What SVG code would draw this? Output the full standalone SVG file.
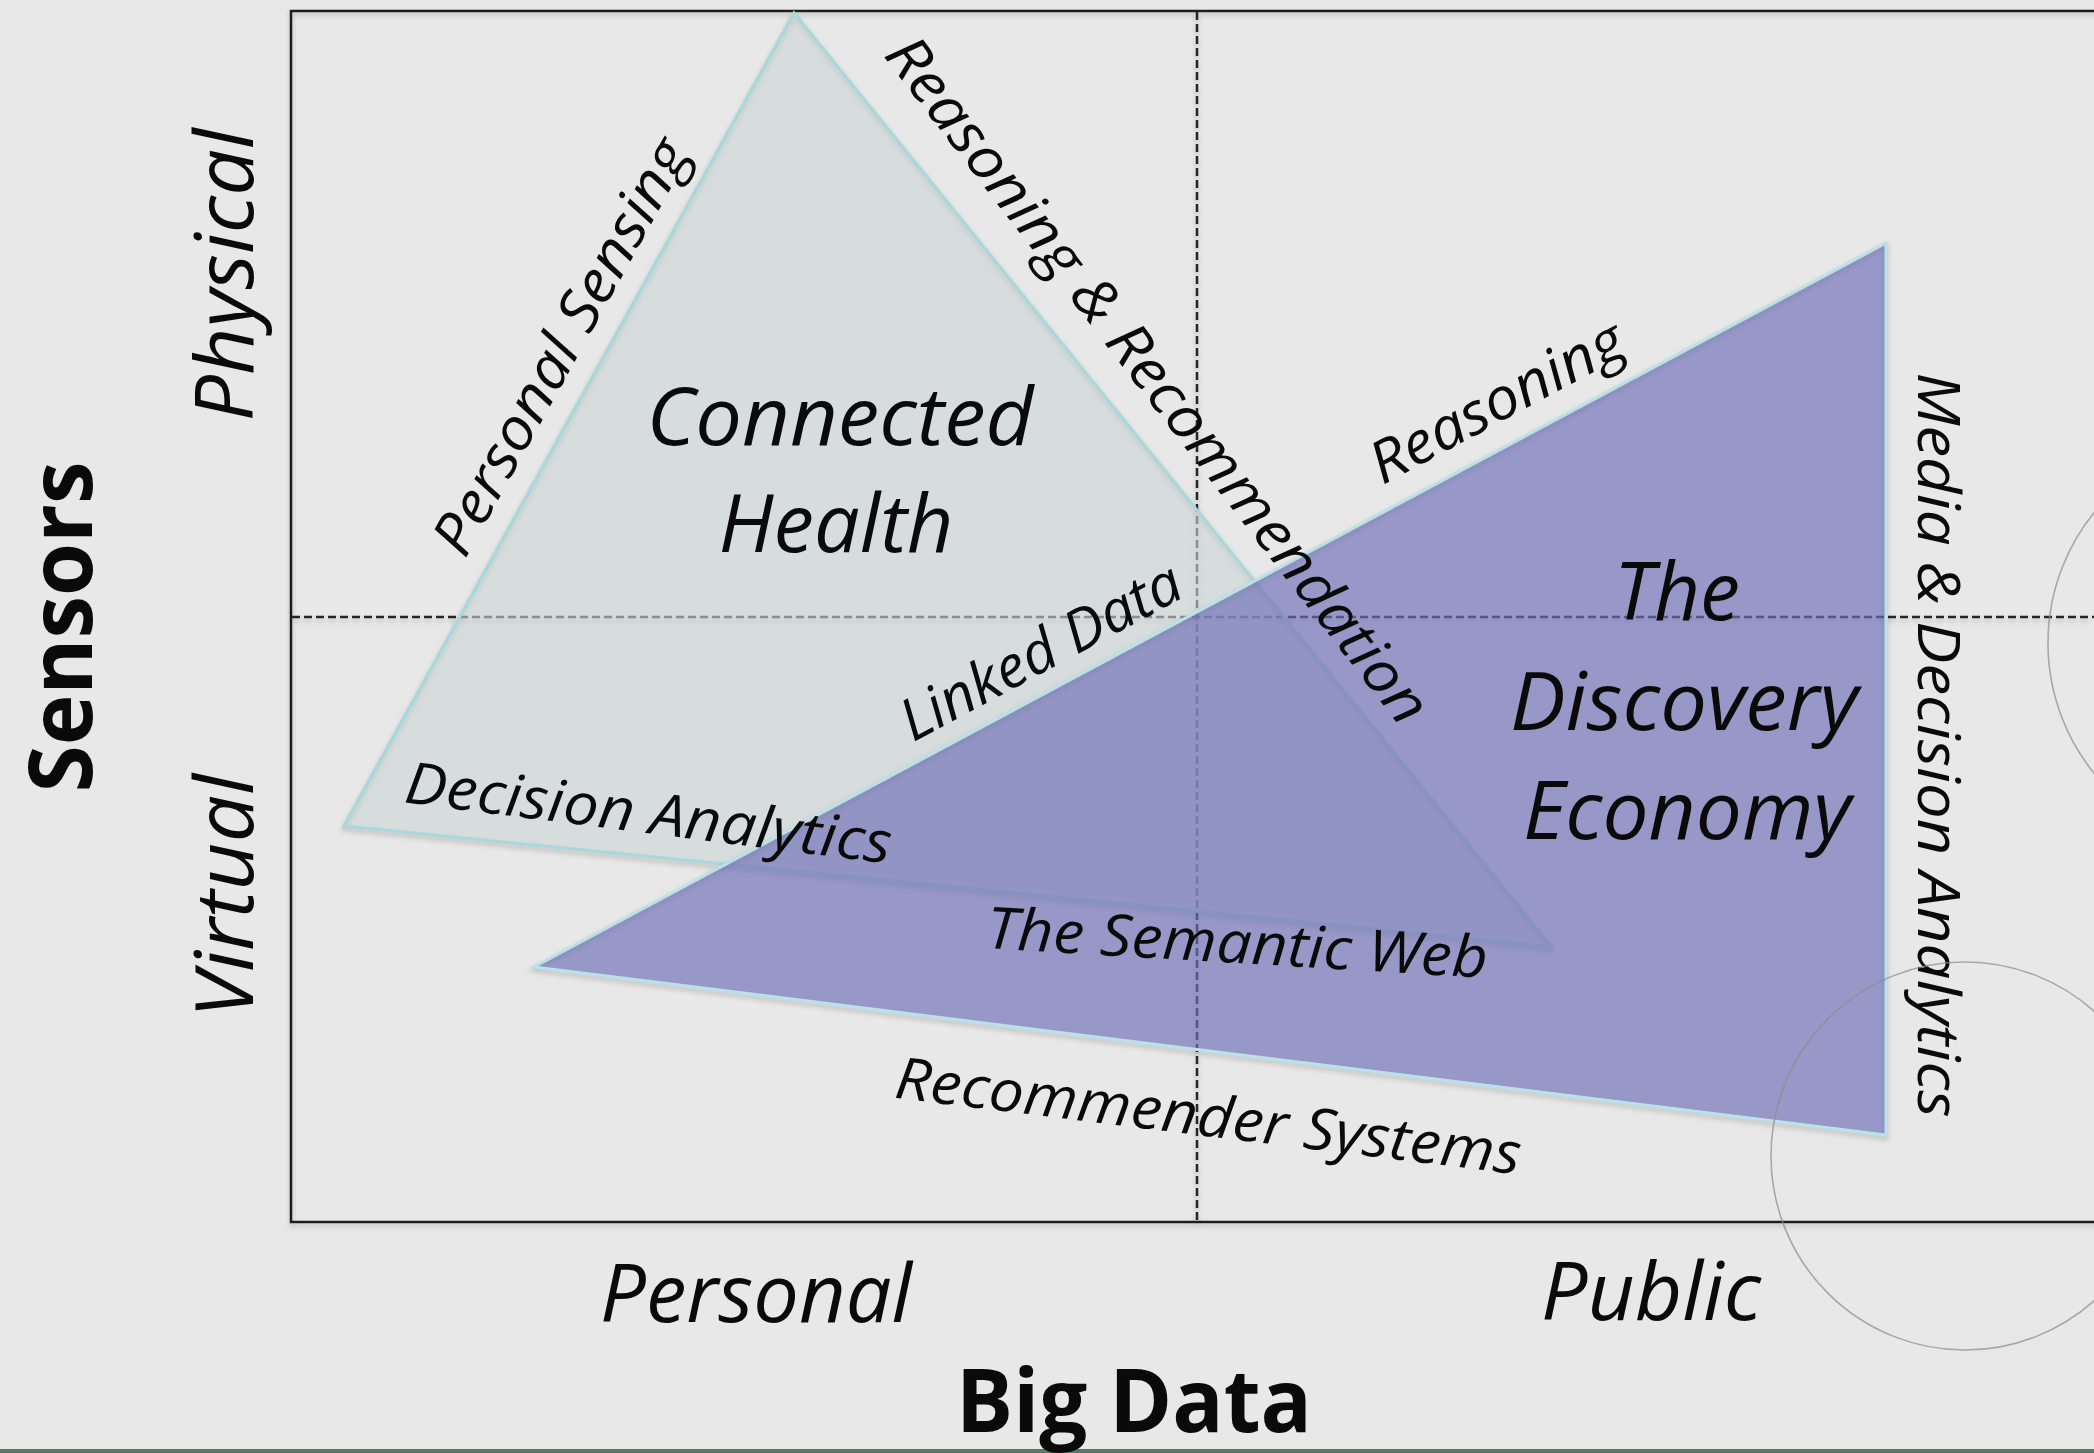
<svg xmlns="http://www.w3.org/2000/svg" width="2094" height="1453" viewBox="0 0 2094 1453">
  <defs>
    <style>
      .bg { fill: #e8e8e8; }
      .frame { fill: none; stroke: #1c1c1c; stroke-width: 2.5; }
      .dash { fill: none; stroke: #262626; stroke-width: 2.5; stroke-dasharray: 8 4; }
      .t1 { fill: #ccd6d6; fill-opacity: 0.6; stroke: #a6d8dc; stroke-width: 3; }
      .t2 { fill: #6f6fb7; fill-opacity: 0.66; stroke: #b8e2e8; stroke-width: 3; }
      .edge-shadow { fill: none; stroke: #000; stroke-opacity: 0.18; stroke-width: 4; }
      .ring { fill: none; stroke: #8c8c8c; stroke-opacity: 0.7; stroke-width: 1.6; }
      .lbl { font-family: "Open Sans", "Liberation Sans", sans-serif; font-style: italic; fill: #0a0a0a; text-anchor: middle; }
      .big { font-size: 80px; }
      .small { font-size: 58px; }
      .axis { font-family: "Open Sans", "Liberation Sans", sans-serif; font-weight: 700; fill: #0a0a0a; text-anchor: middle; }
    </style>
    <filter id="shadow" x="-5%" y="-5%" width="110%" height="110%">
      <feDropShadow dx="0" dy="3" stdDeviation="2.5" flood-color="#000" flood-opacity="0.22"/>
    </filter>
    <filter id="blur" x="-5%" y="-5%" width="110%" height="110%">
      <feGaussianBlur stdDeviation="2.5"/>
    </filter>
  </defs>

  <rect class="bg" x="0" y="0" width="2094" height="1453"/>
  <rect x="0" y="1449" width="2094" height="4" fill="#557a6a"/>

  <g id="frame" filter="url(#shadow)">
    <rect class="frame" x="291" y="11" width="1900" height="1211"/>
  </g>

  <g id="connectors" filter="url(#shadow)">
    <line class="dash" x1="1197" y1="12" x2="1197" y2="1221"/>
    <line class="dash" x1="292" y1="617" x2="2094" y2="617"/>
  </g>

  <g id="connected-health">
    <polygon class="edge-shadow" filter="url(#blur)" transform="translate(0,3)" points="794,13 344,826 1551,947"/>
    <polygon class="t1" points="794,13 344,826 1551,947"/>
  </g>

  <g id="discovery-economy">
    <polygon class="edge-shadow" filter="url(#blur)" transform="translate(0,3)" points="1886,243 534,967 1886,1135"/>
    <polygon class="t2" points="1886,243 534,967 1886,1135"/>
  </g>

  <g id="axis-labels">
    <text class="axis" font-size="88" textLength="331" lengthAdjust="spacingAndGlyphs" transform="translate(92,627) rotate(-90)">Sensors</text>
    <text class="axis" font-size="88" x="1134" y="1432" textLength="356" lengthAdjust="spacingAndGlyphs">Big Data</text>
    <text class="lbl big" textLength="293" lengthAdjust="spacingAndGlyphs" transform="translate(253,275) rotate(-90)">Physical</text>
    <text class="lbl big" textLength="244" lengthAdjust="spacingAndGlyphs" transform="translate(253,896) rotate(-90)">Virtual</text>
    <text class="lbl big" x="756" y="1322" textLength="312" lengthAdjust="spacingAndGlyphs">Personal</text>
    <text class="lbl big" x="1651" y="1320" textLength="220" lengthAdjust="spacingAndGlyphs">Public</text>
  </g>

  <g id="connected-health-label">
    <text class="lbl big" x="840" y="445" textLength="387" lengthAdjust="spacingAndGlyphs">Connected</text>
    <text class="lbl big" x="836" y="552" textLength="235" lengthAdjust="spacingAndGlyphs">Health</text>
  </g>

  <g id="discovery-economy-label">
    <text class="lbl big" x="1677" y="620" textLength="126" lengthAdjust="spacingAndGlyphs">The</text>
    <text class="lbl big" x="1684" y="730" textLength="348" lengthAdjust="spacingAndGlyphs">Discovery</text>
    <text class="lbl big" x="1687" y="839" textLength="328" lengthAdjust="spacingAndGlyphs">Economy</text>
  </g>

  <g id="edge-labels">
    <text class="lbl small" textLength="466" lengthAdjust="spacingAndGlyphs" transform="translate(578,356) rotate(-61)">Personal Sensing</text>
    <text class="lbl small" textLength="850" lengthAdjust="spacingAndGlyphs" transform="translate(1142,392) rotate(52.4)">Reasoning &amp; Recommendation</text>
    <text class="lbl small" textLength="311" lengthAdjust="spacingAndGlyphs" transform="translate(1050,669) rotate(-28.2)">Linked Data</text>
    <text class="lbl small" textLength="280" lengthAdjust="spacingAndGlyphs" transform="translate(1506,419) rotate(-28.2)">Reasoning</text>
    <text class="lbl small" textLength="490" lengthAdjust="spacingAndGlyphs" transform="translate(646,833) rotate(7.2)">Decision Analytics</text>
    <text class="lbl small" textLength="502" lengthAdjust="spacingAndGlyphs" transform="translate(1236,963) rotate(3.4)">The Semantic Web</text>
    <text class="lbl small" textLength="630" lengthAdjust="spacingAndGlyphs" transform="translate(1206,1136) rotate(7)">Recommender Systems</text>
    <text class="lbl small" textLength="745" lengthAdjust="spacingAndGlyphs" transform="translate(1918,745) rotate(90)">Media &amp; Decision Analytics</text>
  </g>

  <g id="rings">
    <circle class="ring" cx="2255" cy="643" r="207"/>
    <circle class="ring" cx="1965" cy="1156" r="194"/>
  </g>
</svg>
